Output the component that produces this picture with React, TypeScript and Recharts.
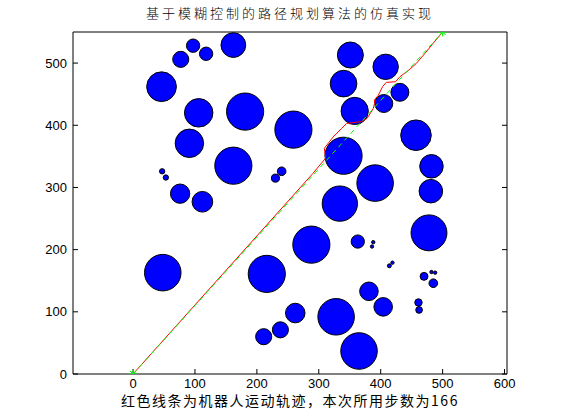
import { ScatterChart, Scatter, XAxis, YAxis } from "recharts";

// obstacles (centre x, centre y, radius) in data units
const obstacleX = [97, 77, 118, 162, 46, 106, 181, 259, 91, 162, 47, 53, 76, 112, 240, 230, 351, 408, 340, 431, 358, 405, 457, 340, 482, 391, 481, 334, 288, 363, 388, 386, 478, 419, 414, 470, 482, 488, 485, 381, 404, 461, 462, 328, 365, 262, 48, 216, 238, 211];
const obstacleY = [528, 506, 515, 529, 462, 420, 422, 393, 371, 335, 326, 316, 290, 277, 326, 315, 513, 494, 467, 453, 423, 435, 384, 351, 334, 307, 294, 274, 208, 213, 212, 205, 227, 179, 174, 157, 164, 163, 146, 133, 108, 115, 103, 92, 37, 98, 163, 161, 71, 60];
const obstacleR = [10.8, 13, 10.8, 20, 24, 23, 30, 30, 23, 30, 4.3, 4.3, 15.6, 16.7, 7, 6.5, 21, 20.5, 21.5, 14.5, 22, 14.5, 24.7, 30, 19, 29.5, 19, 28.5, 30, 10.7, 2.7, 2.7, 29, 2.7, 3.2, 6.4, 2.7, 2.7, 7, 15, 15, 6, 5.4, 29.5, 29.5, 15.8, 29.5, 30, 13, 13];

// robot trajectory (red)
const pathX = [0, 100, 200, 290, 311, 309, 323, 337, 345, 353, 369, 378, 388, 390, 390, 396, 403, 409, 424, 431, 447, 457, 471, 484, 500];
const pathY = [0, 111, 222, 322, 347, 363, 381, 395, 403, 404, 406, 411, 427, 435, 441, 448, 462, 469, 470, 478, 490, 499, 515, 531, 550];

// start -> goal straight line (green)
const lineX = [0, 500];
const lineY = [0, 550];

const xTicks = [0, 100, 200, 300, 400, 500, 600];
const yTicks = [0, 100, 200, 300, 400, 500];

const X_MIN = -97;
const X_MAX = 604;
const Y_MIN = 0;
const Y_MAX = 550;
const PLOT_W = 434;
const unitPx = PLOT_W / (X_MAX - X_MIN);

const obstacles = obstacleX.map((x, i) => ({ x, y: obstacleY[i], r: obstacleR[i] }));
const path = pathX.map((x, i) => ({ x, y: pathY[i] }));
const straight = lineX.map((x, i) => ({ x, y: lineY[i] }));

const tickStyle = { fill: "#000", fontSize: 13, fontFamily: "Liberation Sans, Arial, sans-serif" };
const cjk = '"Noto Sans CJK SC", sans-serif';

function Obstacle(props: any) {
  const { cx, cy, payload } = props;
  if (cx == null || cy == null) return <g />;
  return <circle cx={cx} cy={cy} r={payload.r * unitPx} fill="#0000ff" stroke="#000" strokeWidth={1} />;
}

function Star(props: any) {
  const { cx, cy } = props;
  if (cx == null || cy == null) return <g />;
  const s = 4.5;
  return (
    <g stroke="#00ff00" strokeWidth={1}>
      <line x1={cx - s} y1={cy} x2={cx + s} y2={cy} />
      <line x1={cx} y1={cy - s} x2={cx} y2={cy + s} />
      <line x1={cx - s * 0.7} y1={cy - s * 0.7} x2={cx + s * 0.7} y2={cy + s * 0.7} />
      <line x1={cx - s * 0.7} y1={cy + s * 0.7} x2={cx + s * 0.7} y2={cy - s * 0.7} />
    </g>
  );
}

export default function App() {
  return (
    <div style={{ position: "absolute", left: 0, top: 0, width: 561, height: 420, background: "#fff" }}>
      <ScatterChart width={561} height={420} margin={{ top: 0, right: 0, bottom: 0, left: 0 }}>
        <XAxis
          dataKey="x"
          type="number"
          domain={[X_MIN, X_MAX]}
          ticks={xTicks}
          allowDataOverflow
          height={46}
          tickSize={-5}
          tickMargin={10}
          tick={tickStyle}
          stroke="#000"
        />
        <XAxis
          xAxisId="top"
          orientation="top"
          type="number"
          domain={[X_MIN, X_MAX]}
          ticks={xTicks}
          allowDataOverflow
          height={32}
          tickSize={-5}
          tickFormatter={() => ""}
          stroke="#000"
        />
        <YAxis
          dataKey="y"
          type="number"
          domain={[Y_MIN, Y_MAX]}
          ticks={yTicks}
          allowDataOverflow
          width={73}
          tickSize={-5}
          tickMargin={11}
          tick={tickStyle}
          stroke="#000"
        />
        <YAxis
          yAxisId="right"
          orientation="right"
          type="number"
          domain={[Y_MIN, Y_MAX]}
          ticks={yTicks}
          allowDataOverflow
          width={54}
          tickSize={-5}
          tickFormatter={() => ""}
          stroke="#000"
        />
        <Scatter data={obstacles} shape={Obstacle} isAnimationActive={false} legendType="none" />
        <Scatter
          data={path}
          line={{ stroke: "#ff0000", strokeWidth: 1 }}
          shape={() => <g />}
          isAnimationActive={false}
          legendType="none"
        />
        <Scatter
          data={straight}
          line={{ stroke: "#00ff00", strokeWidth: 1, strokeDasharray: "5 4" }}
          shape={Star}
          isAnimationActive={false}
          legendType="none"
        />
      </ScatterChart>
      <div
        style={{
          position: "absolute",
          left: 73,
          width: 434,
          top: 4,
          textAlign: "center",
          fontFamily: cjk,
          fontSize: 13,
          fontWeight: 300,
          letterSpacing: 3,
          lineHeight: "18px",
          color: "#000",
        }}
      >
        基于模糊控制的路径规划算法的仿真实现
      </div>
      <div
        style={{
          position: "absolute",
          left: 73,
          width: 434,
          top: 391,
          textAlign: "center",
          fontFamily: cjk,
          fontSize: 14,
          letterSpacing: 1.5,
          lineHeight: "18px",
          color: "#000",
        }}
      >
        红色线条为机器人运动轨迹，本次所用步数为166
      </div>
    </div>
  );
}
